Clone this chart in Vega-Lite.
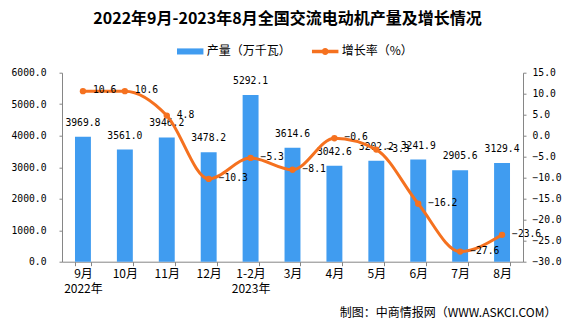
{
  "$schema": "https://vega.github.io/schema/vega-lite/v6.json",
  "width": 461,
  "height": 189,
  "autosize": {"type": "none"},
  "padding": {"left": 62, "top": 72.7, "right": 53, "bottom": 64.3},
  "background": "white",
  "title": {
    "text": "2022年9月-2023年8月全国交流电动机产量及增长情况",
    "font": "Noto Sans CJK SC",
    "fontSize": 16,
    "fontWeight": "bold",
    "color": "#000000",
    "anchor": "middle",
    "dx": -5,
    "offset": 11
  },
  "config": {
    "view": {"stroke": null},
    "axis": {"grid": false, "domainColor": "#868686", "tickColor": "#868686", "labelColor": "#000000", "labelOverlap": false}
  },
  "data": {
    "values": [
      {"month": "9月", "output": 3969.8, "growth": 10.6},
      {"month": "10月", "output": 3561.0, "growth": 10.6},
      {"month": "11月", "output": 3946.2, "growth": 4.8},
      {"month": "12月", "output": 3478.2, "growth": -10.3},
      {"month": "1-2月", "output": 5292.1, "growth": -5.3},
      {"month": "3月", "output": 3614.6, "growth": -8.1},
      {"month": "4月", "output": 3042.6, "growth": -0.6},
      {"month": "5月", "output": 3202.2, "growth": -3.3},
      {"month": "6月", "output": 3241.9, "growth": -16.2},
      {"month": "7月", "output": 2905.6, "growth": -27.6},
      {"month": "8月", "output": 3129.4, "growth": -23.6}
    ]
  },
  "encoding": {
    "x": {
      "field": "month",
      "type": "nominal",
      "sort": null,
      "scale": {"paddingInner": 0.62, "paddingOuter": 0.31},
      "axis": {
        "title": "制图：中商情报网（WWW.ASKCI.COM）",
        "titleFont": "Noto Sans CJK SC",
        "titleFontSize": 12,
        "titleFontWeight": "normal",
        "titleColor": "#000000",
        "titleX": 494,
        "titleY": 50.6,
        "titleAlign": "right",
        "titleBaseline": "middle",
        "labelAngle": 0,
        "labelFont": "Noto Sans CJK SC",
        "labelFontSize": 12,
        "labelLineHeight": 15,
        "labelPadding": 3,
        "labelBaseline": "top",
        "labelOverlap": false,
        "tickBand": "extent",
        "tickSize": 4,
        "labelExpr": "datum.value == '9月' ? ['9月','2022年'] : datum.value == '1-2月' ? ['1-2月','2023年'] : datum.value"
      }
    }
  },
  "layer": [
    {
      "encoding": {
        "y": {
          "field": "output",
          "type": "quantitative",
          "scale": {"domain": [0, 6000], "nice": false},
          "axis": {
            "orient": "left",
            "title": null,
            "values": [0, 1000, 2000, 3000, 4000, 5000, 6000],
            "format": ".1f",
            "labelFont": "DejaVu Sans Mono",
            "labelFontSize": 9.7,
            "labelOverlap": false,
            "tickSize": 3,
            "labelPadding": 13
          }
        }
      },
      "layer": [
        {
          "mark": {"type": "bar"},
          "encoding": {
            "color": {
              "datum": "产量（万千瓦）",
              "type": "nominal",
              "scale": {"domain": ["产量（万千瓦）", "增长率（%）"], "range": ["#409cf0", "#f5711f"]},
              "legend": {
                "title": null,
                "orient": "none",
                "direction": "horizontal",
                "legendX": 114.7,
                "legendY": -35,
                "labelFont": "Noto Sans CJK SC",
                "labelFontSize": 12,
                "labelColor": "#000000",
                "labelOffset": 3,
                "columnPadding": 20,
                "symbolSize": 700,
                "symbolStrokeWidth": 0,
                "encode": {
                  "symbols": {
                    "update": {
                      "shape": {"signal": "datum.value === '产量（万千瓦）' ? 'M-1,-0.23H1V0.23H-1Z' : 'M-1,-0.13H1V0.13H-1Z M-0.26,0A0.26,0.26 0 1,1 0.26,0A0.26,0.26 0 1,1 -0.26,0Z'"},
                      "fill": {"signal": "datum.value === '产量（万千瓦）' ? '#409cf0' : '#f5711f'"},
                      "strokeWidth": {"value": 0},
                      "opacity": {"value": 1}
                    }
                  }
                }
              }
            }
          }
        },
        {
          "mark": {"type": "text", "baseline": "middle", "dy": -14, "font": "DejaVu Sans Mono", "fontSize": 9.7, "color": "#000000"},
          "encoding": {
            "text": {"field": "output", "type": "quantitative", "format": ".1f"}
          }
        }
      ]
    },
    {
      "encoding": {
        "y": {
          "field": "growth",
          "type": "quantitative",
          "scale": {"domain": [-30, 15], "nice": false},
          "axis": {
            "orient": "right",
            "title": null,
            "values": [-30, -25, -20, -15, -10, -5, 0, 5, 10, 15],
            "format": ".1f",
            "labelFont": "DejaVu Sans Mono",
            "labelFontSize": 9.7,
            "labelOverlap": false,
            "tickSize": 3,
            "labelPadding": 6
          }
        }
      },
      "layer": [
        {
          "mark": {"type": "line", "interpolate": "monotone", "strokeWidth": 3, "point": {"filled": true, "size": 40}},
          "encoding": {
            "color": {"datum": "增长率（%）", "type": "nominal"}
          }
        },
        {
          "mark": {"type": "text", "align": "left", "baseline": "middle", "dx": 10, "dy": -1, "font": "DejaVu Sans Mono", "fontSize": 9.7, "color": "#000000"},
          "encoding": {
            "text": {"field": "growth", "type": "quantitative", "format": ".1f"}
          }
        }
      ]
    }
  ],
  "resolve": {"scale": {"y": "independent"}}
}
